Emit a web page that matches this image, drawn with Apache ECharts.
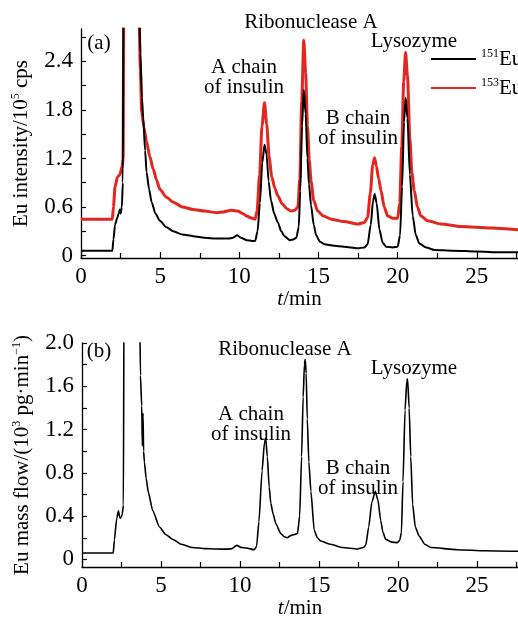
<!DOCTYPE html>
<html>
<head>
<meta charset="utf-8">
<script src="https://cdn.jsdelivr.net/npm/echarts@6/dist/echarts.min.js"></script>
<style>
  html, body { margin: 0; background: #fff; }
  #chart { width: 518px; height: 620px; }
</style>
</head>
<body>
<div id="chart"></div>
<script>
// (a) Eu intensity, 10^5 cps  [t/min, value]
var eu151 = [
  [0, 0.06], [1.0, 0.06], [1.98, 0.06], [2.05, 0.2], [2.15, 0.38], [2.28, 0.46], [2.38, 0.52],
  [2.45, 0.57], [2.5, 0.52], [2.58, 0.6], [2.64, 0.9], [2.68, 3.2], [3.0, 4], [3.4, 4],
  [3.68, 3.0], [3.75, 2.5], [3.85, 1.95], [3.93, 1.7], [4.05, 1.3], [4.14, 1.03], [4.3, 0.82],
  [4.46, 0.66], [4.7, 0.52], [4.98, 0.43], [5.4, 0.35], [5.83, 0.3], [6.4, 0.26], [7.08, 0.24],
  [7.8, 0.22], [8.56, 0.21], [9.3, 0.21], [9.6, 0.22], [9.86, 0.25], [10.1, 0.22], [10.45, 0.19],
  [10.8, 0.18], [11.0, 0.18], [11.15, 0.3], [11.3, 0.65], [11.45, 1.15], [11.59, 1.37], [11.72, 1.25],
  [11.85, 0.92], [12.0, 0.68], [12.2, 0.52], [12.43, 0.41], [12.65, 0.3], [12.85, 0.24], [13.2, 0.19],
  [13.4, 0.2], [13.6, 0.22], [13.75, 0.35], [13.85, 0.8], [13.96, 1.6], [14.07, 2.05], [14.19, 1.75],
  [14.3, 1.2], [14.4, 0.88], [14.53, 0.62], [14.7, 0.38], [14.85, 0.25], [15.1, 0.17], [15.37, 0.14],
  [16.0, 0.12], [16.6, 0.11], [17.48, 0.09], [17.9, 0.1], [18.1, 0.14], [18.3, 0.38], [18.44, 0.67],
  [18.55, 0.76], [18.67, 0.65], [18.85, 0.32], [19.05, 0.16], [19.27, 0.11], [19.7, 0.1], [20.0, 0.11],
  [20.15, 0.25], [20.28, 0.85], [20.4, 1.65], [20.5, 1.95], [20.62, 1.7], [20.77, 1.0], [20.95, 0.49],
  [21.15, 0.25], [21.37, 0.15], [21.8, 0.1], [22.32, 0.07], [23.5, 0.06], [25, 0.05], [26.5, 0.04],
  [27.6, 0.04]
]
var eu153 = [
  [0, 0.45], [1.98, 0.45], [2.05, 0.6], [2.15, 0.85], [2.3, 0.97], [2.45, 1.0], [2.6, 1.1],
  [2.66, 1.2], [2.7, 3.2], [3.0, 4], [3.4, 4], [3.66, 3.0], [3.75, 2.3], [3.83, 1.78], [3.98, 1.58],
  [4.14, 1.41], [4.35, 1.22], [4.56, 1.07], [4.78, 0.93], [4.98, 0.82], [5.4, 0.72], [5.83, 0.66],
  [6.4, 0.6], [7.08, 0.57], [7.8, 0.55], [8.56, 0.53], [9.0, 0.54], [9.5, 0.56], [9.9, 0.55],
  [10.2, 0.52], [10.45, 0.49], [10.8, 0.46], [11.0, 0.45], [11.12, 0.55], [11.28, 1.0], [11.43, 1.6],
  [11.59, 1.89], [11.73, 1.62], [11.88, 1.22], [12.05, 0.97], [12.25, 0.83], [12.43, 0.74], [12.7, 0.64],
  [13.0, 0.58], [13.27, 0.55], [13.5, 0.56], [13.7, 0.6], [13.82, 0.95], [13.94, 1.9], [14.07, 2.66],
  [14.19, 2.25], [14.3, 1.6], [14.42, 1.18], [14.53, 0.92], [14.7, 0.68], [14.95, 0.55], [15.3, 0.49],
  [15.8, 0.45], [16.6, 0.42], [17.48, 0.39], [17.9, 0.41], [18.1, 0.47], [18.28, 0.78], [18.42, 1.12],
  [18.54, 1.21], [18.66, 1.1], [18.8, 0.95], [18.95, 0.8], [19.15, 0.6], [19.37, 0.49], [19.7, 0.46],
  [20.0, 0.46], [20.13, 0.65], [20.26, 1.35], [20.38, 2.15], [20.5, 2.51], [20.62, 2.22], [20.77, 1.45],
  [20.9, 1.02], [21.05, 0.8], [21.25, 0.6], [21.47, 0.49], [21.9, 0.43], [22.73, 0.39], [24, 0.36],
  [25.89, 0.34], [27.6, 0.32]
]
// (b) Eu mass flow, 10^3 pg/min
var massFlow = [
  [0, 0.06], [1.98, 0.06], [2.05, 0.18], [2.2, 0.38], [2.31, 0.45], [2.38, 0.39], [2.45, 0.38],
  [2.55, 0.42], [2.62, 0.5], [2.66, 2.5], [3.0, 3], [3.4, 3], [3.64, 2.5], [3.7, 1.7], [3.78, 1.42],
  [3.82, 1.05], [3.86, 1.35], [3.9, 1.0], [3.95, 0.9], [4.06, 0.75], [4.2, 0.62], [4.48, 0.45],
  [4.9, 0.3], [5.3, 0.23], [5.74, 0.185], [6.3, 0.14], [7.0, 0.11], [7.8, 0.1], [8.48, 0.096],
  [9.2, 0.095], [9.5, 0.1], [9.8, 0.13], [10.1, 0.11], [10.4, 0.105], [10.9, 0.09], [11.05, 0.12],
  [11.2, 0.35], [11.4, 0.82], [11.55, 1.08], [11.63, 1.12], [11.73, 0.95], [11.85, 0.67], [11.95, 0.52],
  [12.1, 0.42], [12.27, 0.33], [12.58, 0.24], [12.8, 0.21], [13.0, 0.2], [13.2, 0.22], [13.45, 0.23],
  [13.64, 0.24], [13.78, 0.4], [13.9, 0.95], [14.0, 1.5], [14.08, 1.8], [14.13, 1.85], [14.19, 1.72],
  [14.26, 1.3], [14.36, 0.9], [14.49, 0.63], [14.7, 0.27], [14.9, 0.2], [15.12, 0.17], [15.75, 0.14],
  [16.5, 0.11], [17.44, 0.096], [17.8, 0.11], [17.96, 0.13], [18.15, 0.3], [18.35, 0.53], [18.57, 0.63],
  [18.73, 0.55], [18.91, 0.36], [19.05, 0.25], [19.23, 0.185], [19.6, 0.16], [19.97, 0.155],
  [20.12, 0.18], [20.22, 0.25], [20.32, 0.72], [20.45, 1.38], [20.56, 1.65], [20.61, 1.67], [20.71, 1.4],
  [20.81, 0.95], [20.93, 0.51], [21.1, 0.3], [21.34, 0.215], [21.7, 0.14], [22.08, 0.11], [23.77, 0.09],
  [25.5, 0.08], [27.6, 0.075]
]
var yLabelsA = [0, 0.6, 1.2, 1.8, 2.4]
var yTicksA = [0, 0.3, 0.6, 0.9, 1.2, 1.5, 1.8, 2.1, 2.4, 2.7]
var yLabelsB = [0, 0.4, 0.8, 1.2, 1.6, 2.0]
var yTicksB = [0, 0.2, 0.4, 0.6, 0.8, 1.0, 1.2, 1.4, 1.6, 1.8, 2.0]

var FONT = "'Liberation Serif', 'Times New Roman', serif"
var chart = echarts.init(document.getElementById('chart'))

function xAxisFor (gridIndex) {
  return {
    type: 'value',
    gridIndex: gridIndex,
    min: 0,
    max: 27.6,
    interval: 5,
    name: '{i|t}/min',
    nameLocation: 'middle',
    nameGap: 31,
    nameTextStyle: {
      fontFamily: FONT, fontSize: 21, color: '#000',
      rich: { i: { fontFamily: FONT, fontSize: 21, fontStyle: 'italic', color: '#000' } }
    },
    axisLine: { onZero: false, lineStyle: { color: '#000', width: 1.3 } },
    axisTick: { inside: true, length: 6, lineStyle: { color: '#000', width: 1.2 } },
    minorTick: { show: true, splitNumber: 2, length: 5, lineStyle: { color: '#000', width: 1.2 } },
    axisLabel: {
      fontFamily: FONT, fontSize: 23, color: '#000', margin: 7,
      showMaxLabel: false
    },
    splitLine: { show: false }
  }
}

function yAxisFor (gridIndex, min, max, labels, ticks, name) {
  return {
    type: 'value',
    gridIndex: gridIndex,
    min: min,
    max: max,
    name: name,
    nameLocation: 'middle',
    nameGap: 47,
    nameTextStyle: {
      fontFamily: FONT, fontSize: 21, color: '#000', lineHeight: 24,
      rich: {
        s: { fontFamily: FONT, fontSize: 12, color: '#000', lineHeight: 12, verticalAlign: 'top' }
      }
    },
    axisLine: { onZero: false, lineStyle: { color: '#000', width: 1.3 } },
    axisTick: {
      inside: true, length: 5, customValues: ticks,
      lineStyle: { color: '#000', width: 1.2 }
    },
    axisLabel: {
      fontFamily: FONT, fontSize: 23, color: '#000', margin: 8,
      customValues: labels,
      formatter: function (v) { return v === 0 ? '0' : v.toFixed(1) }
    },
    splitLine: { show: false }
  }
}

function note (text, x, y) {
  return {
    type: 'text',
    x: x,
    y: y,
    style: {
      text: text, fill: '#000', font: '21px ' + FONT,
      textAlign: 'center', textVerticalAlign: 'middle'
    }
  }
}

chart.setOption({
  animation: false,
  backgroundColor: '#fff',
  grid: [
    { left: 81, top: 29, width: 437, height: 229 },
    { left: 82, top: 343, width: 436, height: 240 }
  ],
  xAxis: [xAxisFor(0), xAxisFor(1)],
  yAxis: [
    yAxisFor(0, -0.03, 2.8, yLabelsA, yTicksA, 'Eu intensity/10{s|5} cps'),
    yAxisFor(1, -0.07, 2.0, yLabelsB, yTicksB, 'Eu mass flow/(10{s|3} pg·min{s|−1})')
  ],
  legend: {
    data: ['151Eu', '153Eu'],
    orient: 'vertical',
    left: 426,
    top: 43,
    itemGap: 7,
    itemWidth: 45,
    itemHeight: 2,
    icon: 'rect',
    formatter: function (name) { return '{s|' + name.slice(0, 3) + '}{b|Eu}' },
    textStyle: {
      fontFamily: FONT, fontSize: 21, color: '#000', lineHeight: 22,
      rich: {
        s: { fontFamily: FONT, fontSize: 12, color: '#000', lineHeight: 12, verticalAlign: 'top' },
        b: { fontFamily: FONT, fontSize: 21, color: '#000', lineHeight: 22 }
      }
    }
  },
  series: [
    {
      name: '153Eu', type: 'line', xAxisIndex: 0, yAxisIndex: 0,
      data: eu153, showSymbol: false, clip: true, smooth: 0.25, smoothMonotone: 'x',
      lineStyle: { color: '#e3261f', width: 3 }, itemStyle: { color: '#e3261f' }
    },
    {
      name: '151Eu', type: 'line', xAxisIndex: 0, yAxisIndex: 0,
      data: eu151, showSymbol: false, clip: true, smooth: 0.25, smoothMonotone: 'x',
      lineStyle: { color: '#000', width: 2 }, itemStyle: { color: '#000' }
    },
    {
      name: 'mass flow', type: 'line', xAxisIndex: 1, yAxisIndex: 1,
      data: massFlow, showSymbol: false, clip: true, smooth: 0.2, smoothMonotone: 'x',
      lineStyle: { color: '#000', width: 1.6 }, itemStyle: { color: '#000' }
    }
  ],
  graphic: [
    note('(a)', 99, 43),
    note('Ribonuclease A', 311, 22),
    note('A chain', 244, 67),
    note('of insulin', 244, 87),
    note('B chain', 358, 118),
    note('of insulin', 358, 138),
    note('Lysozyme', 414, 41),
    note('(b)', 99, 351),
    note('Ribonuclease A', 285, 349),
    note('A chain', 251, 414),
    note('of insulin', 251, 434),
    note('B chain', 358, 468),
    note('of insulin', 358, 488),
    note('Lysozyme', 414, 368)
  ]
})
</script>
</body>
</html>
